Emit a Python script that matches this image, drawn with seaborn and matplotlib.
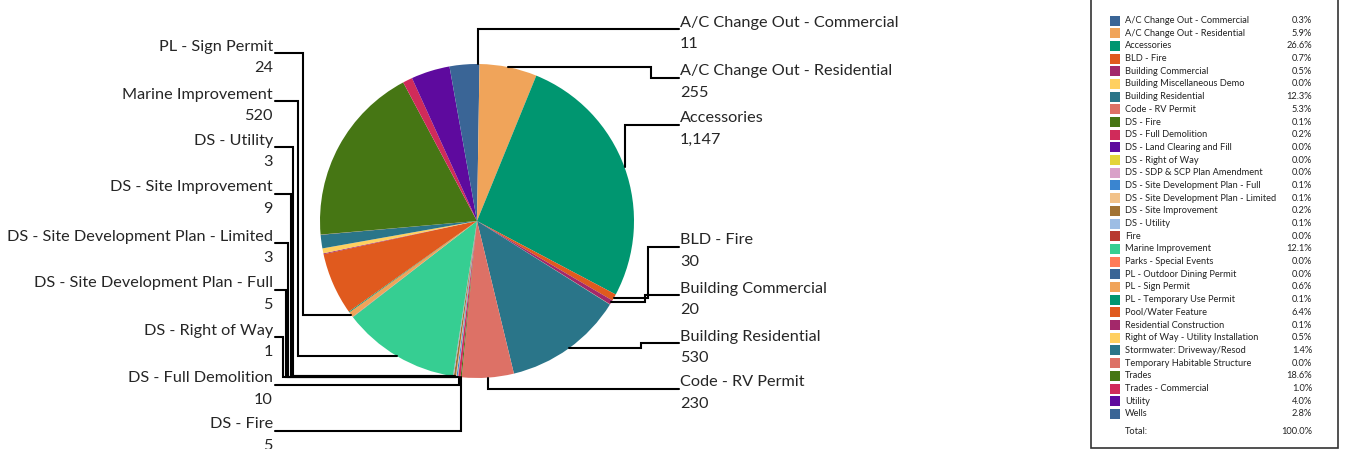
import numpy as np
import pandas as pd
import matplotlib
matplotlib.use("Agg")
import matplotlib.pyplot as plt
import seaborn as sns

# categories and counts (clockwise from 12 o'clock)
categories = [
    "A/C Change Out - Commercial", "A/C Change Out - Residential", "Accessories",
    "BLD - Fire", "Building Commercial", "Building Miscellaneous Demo",
    "Building Residential", "Code - RV Permit", "DS - Fire", "DS - Full Demolition",
    "DS - Land Clearing and Fill", "DS - Right of Way", "DS - SDP & SCP Plan Amendment",
    "DS - Site Development Plan - Full", "DS - Site Development Plan - Limited",
    "DS - Site Improvement", "DS - Utility", "Fire", "Marine Improvement",
    "Parks - Special Events", "PL - Outdoor Dining Permit", "PL - Sign Permit",
    "PL - Temporary Use Permit", "Pool/Water Feature", "Residential Construction",
    "Right of Way - Utility Installation", "Stormwater: Driveway/Resod",
    "Temporary Habitable Structure", "Trades", "Trades - Commercial", "Utility", "Wells",
]
counts = [11, 255, 1147, 30, 20, 1, 530, 230, 5, 10, 1, 1, 1, 5, 3, 9, 3, 1, 520,
          1, 1, 24, 4, 276, 4, 22, 60, 1, 802, 43, 172, 121]

colors = ["#3A6596", "#F0A45A", "#009670", "#E05A1E", "#A3286A", "#FFD060",
          "#2A7589", "#DD7166", "#467614", "#D02B5A", "#5E0A9E", "#E3D43A",
          "#D9A1C8", "#3A85D0", "#F2C289", "#A17334", "#9DBDE4", "#B83A30",
          "#36CE92", "#FF7B59",
          "#3A6596", "#F0A45A", "#009670", "#E05A1E", "#A3286A", "#FFD060",
          "#2A7589", "#DD7166", "#467614", "#D02B5A", "#5E0A9E", "#3A6596"]

# slices that get a callout, and where their labels sit
right_labels = ["A/C Change Out - Commercial", "A/C Change Out - Residential", "Accessories",
                "BLD - Fire", "Building Commercial", "Building Residential", "Code - RV Permit"]
right_line_y = [29, 78, 125, 247, 295, 343, 389]
right_elbow_x = [None, 651, None, 648, 645, 641, None]

left_labels = ["PL - Sign Permit", "Marine Improvement", "DS - Utility", "DS - Site Improvement",
               "DS - Site Development Plan - Limited", "DS - Site Development Plan - Full",
               "DS - Right of Way", "DS - Full Demolition", "DS - Fire"]
left_line_y = [53, 101, 147, 194, 243, 290, 337, 385, 431]
left_elbow_x = [303, 298, 293, 291, 288, 286, 283, None, None]

df = pd.DataFrame({"category": categories, "count": counts})
df["pct"] = df["count"] / df["count"].sum() * 100
df["color"] = sns.color_palette(colors, len(colors))
cum = df["count"].cumsum() - df["count"]
df["mid_angle"] = (cum + df["count"] / 2) / df["count"].sum() * 360

sns.set_theme(style="white")
plt.rcParams["font.family"] = ["Lato", "DejaVu Sans"]

W, H = 1346, 449
fig = plt.figure(figsize=(W / 100, H / 100), dpi=100)
ax = fig.add_axes([0, 0, 1, 1])

cx, cy, r = 477, 221, 157
ax.pie(df["count"], colors=df["color"], startangle=-90, counterclock=True,
       center=(cx, cy), radius=r, wedgeprops=dict(linewidth=0))
ax.set_xlim(0, W)
ax.set_ylim(H, 0)
ax.set_aspect("auto")
ax.axis("off")


def edge_point(name):
    a = np.deg2rad(df.loc[df["category"] == name, "mid_angle"].iloc[0])
    return cx + r * np.sin(a), cy - r * np.cos(a)


lab_fs = 11.7
for name, ly, ex_col in zip(right_labels, right_line_y, right_elbow_x):
    ex, ey = edge_point(name)
    mx = ex if ex_col is None else ex_col
    ax.plot([ex, mx, mx, 679], [ey, ey, ly, ly], color="black", lw=1.5,
            solid_joinstyle="miter")
    val = df.loc[df["category"] == name, "count"].iloc[0]
    ax.text(680, ly - 2.5, name, ha="left", va="baseline", fontsize=lab_fs)
    ax.text(680, ly + 19, f"{val:,}", ha="left", va="baseline", fontsize=lab_fs)

for name, ly, ex_col in zip(left_labels, left_line_y, left_elbow_x):
    ex, ey = edge_point(name)
    mx = ex if ex_col is None else ex_col
    ax.plot([275, mx, mx, ex], [ly, ly, ey, ey], color="black", lw=1.5,
            solid_joinstyle="miter")
    val = df.loc[df["category"] == name, "count"].iloc[0]
    ax.text(273, ly - 2.5, name, ha="right", va="baseline", fontsize=lab_fs)
    ax.text(273, ly + 19, f"{val:,}", ha="right", va="baseline", fontsize=lab_fs)

# legend table
ax.add_patch(plt.Rectangle((1090.5, -5), 247.5, 452.5, fill=False,
                           edgecolor="#333333", lw=1.2))
leg_fs = 6.7
leg_y0, leg_dy = 20.5, 12.69
for i, row in df.iterrows():
    y = leg_y0 + i * leg_dy
    ax.add_patch(plt.Rectangle((1110, y - 5), 10, 10, color=row["color"], lw=0))
    ax.text(1125, y, row["category"], ha="left", va="center", fontsize=leg_fs, color="#222222")
    ax.text(1312, y, f"{row['pct']:.1f}%", ha="right", va="center", fontsize=leg_fs,
            color="#222222")
ax.text(1125, 431.5, "Total:", ha="left", va="center", fontsize=leg_fs, color="#222222")
ax.text(1312, 431.5, f"{df['pct'].sum():.1f}%", ha="right", va="center", fontsize=leg_fs,
        color="#222222")

fig.savefig("out.png", dpi=100)
